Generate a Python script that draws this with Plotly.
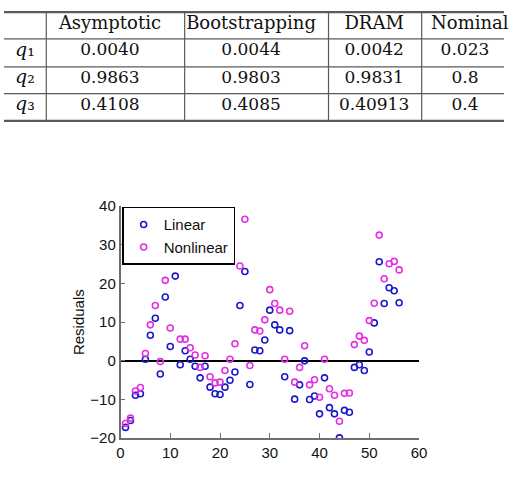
import plotly.graph_objects as go

# ---------------- data ----------------
col_headers = ["Asymptotic", "Bootstrapping", "DRAM", "Nominal"]
row_labels = ["<i>q</i>₁", "<i>q</i>₂", "<i>q</i>₃"]
asymptotic = ["0.0040", "0.9863", "0.4108"]
bootstrapping = ["0.0044", "0.9803", "0.4085"]
dram = ["0.0042", "0.9831", "0.40913"]
nominal = ["0.023", "0.8", "0.4"]

obs = [1, 2, 3, 4, 5, 6, 7, 8, 9, 10, 11, 12, 13, 14, 15, 16, 17, 18, 19, 20,
       21, 22, 23, 24, 25, 26, 27, 28, 29, 30, 31, 32, 33, 34, 35, 36, 37, 38, 39, 40,
       41, 42, 43, 44, 45, 46, 47, 48, 49, 50, 51, 52, 53, 54, 55, 56]
linear = [-17.2, -15.4, -8.9, -8.5, 0.4, 6.6, 11.0, -3.4, 16.5, 3.7,
          21.9, -1.0, 2.6, 0.4, -1.4, -4.4, -1.4, -6.8, -8.5, -8.7,
          -6.8, -5.0, -2.9, 14.3, 23.1, -6.1, 2.8, 2.6, 5.4, 13.1,
          9.3, 8.0, -4.1, 7.8, -9.9, -6.2, 0.0, -10.0, -9.1, -13.7,
          -4.4, -12.1, -13.7, -19.9, -12.8, -13.3, -1.7, -1.0, -2.5, 2.3,
          9.8, 25.6, 14.8, 18.9, 18.1, 15.0]
nonlinear = [-16.2, -14.8, -7.8, -6.9, 1.9, 9.3, 14.3, -0.2, 20.8, 8.5,
             26.9, 5.6, 5.6, 3.4, 1.5, -1.7, 1.3, -4.1, -5.7, -5.5,
             -2.5, 0.4, 4.4, 24.5, 36.6, -1.2, 8.0, 7.7, 10.6, 18.4,
             14.8, 13.1, 0.4, 12.8, -5.5, -1.7, 3.9, -6.2, -4.9, -9.4,
             0.4, -7.2, -8.9, -15.6, -8.4, -8.3, 4.2, 6.4, 5.3, 10.4,
             14.9, 32.5, 21.2, 25.1, 25.7, 23.5]

x_ticks = [0, 10, 20, 30, 40, 50, 60]
y_ticks = [-20, -10, 0, 10, 20, 30, 40]

W, H = 512, 480

fig = go.Figure()

# ---------------- scatter plot ----------------
fig.add_trace(go.Scatter(
    x=obs, y=linear, mode="markers", name="Linear",
    marker=dict(symbol="circle-open", size=6, color="#1a1acc", line=dict(width=1.6)),
    xaxis="x", yaxis="y", hoverinfo="skip"))
fig.add_trace(go.Scatter(
    x=obs, y=nonlinear, mode="markers", name="Nonlinear",
    marker=dict(symbol="circle-open", size=6, color="#e52ee5", line=dict(width=1.6)),
    xaxis="x", yaxis="y", hoverinfo="skip"))

# ---------------- table (drawn on a pixel-like helper axis) ----------------
col_x = [21.5, 108.5, 253, 379, 472]
header_x = [108.5, 253, 379, 477]
row_y = [43.5, 72, 100]
header_y = 16.5

fig.add_trace(go.Scatter(
    x=header_x, y=[header_y] * len(col_headers), text=col_headers, mode="text",
    textfont=dict(family="DejaVu Serif", size=18, color="#111"),
    xaxis="x2", yaxis="y2", showlegend=False, hoverinfo="skip", cliponaxis=False))
fig.add_trace(go.Scatter(
    x=[col_x[0]] * 3, y=row_y, text=row_labels, mode="text",
    textfont=dict(family="DejaVu Serif", size=19, color="#111"),
    xaxis="x2", yaxis="y2", showlegend=False, hoverinfo="skip", cliponaxis=False))
for cx, vals in zip(col_x[1:], [asymptotic, bootstrapping, dram, nominal]):
    fig.add_trace(go.Scatter(
        x=[cx] * 3, y=row_y, text=vals, mode="text",
        textfont=dict(family="DejaVu Serif", size=17, color="#111"),
        xaxis="x2", yaxis="y2", showlegend=False, hoverinfo="skip", cliponaxis=False))

line_col = "#5a5a5a"
hlines = [(3.3, 2.2), (31, 1.2), (60, 1.2), (87.7, 1.2), (116, 2.2)]
for yy, w in hlines:
    fig.add_shape(type="line", xref="x2", yref="y2", x0=0, x1=520, y0=yy, y1=yy,
                  line=dict(color=line_col, width=w))
for xx in [43.3, 185, 332.3, 427.7]:
    fig.add_shape(type="line", xref="x2", yref="y2", x0=xx, x1=xx, y0=3.3, y1=116,
                  line=dict(color=line_col, width=1.2))

# ---------------- layout ----------------
x0px, x1px = 119.3, 425
ytop, ybot = 204.3, 445
axis_col = "#6e6e6e"
fig.update_layout(
    width=W, height=H,
    margin=dict(l=0, r=0, t=0, b=0),
    paper_bgcolor="white", plot_bgcolor="rgba(0,0,0,0)",
    font=dict(family="Liberation Sans, Arial", size=15, color="#111"),
    xaxis=dict(domain=[x0px / W, x1px / W], range=[0, 60], tickvals=x_ticks,
               showgrid=False, zeroline=False, showline=True, linecolor=axis_col,
               linewidth=1.5, ticks="inside", ticklen=5, tickcolor=axis_col,
               tickfont=dict(size=15), anchor="y", fixedrange=True),
    yaxis=dict(domain=[(H - ybot) / H, (H - ytop) / H], range=[-20, 40], tickvals=y_ticks,
               showgrid=False, zeroline=True, zerolinecolor="black", zerolinewidth=1.5,
               showline=True, linecolor=axis_col, linewidth=1.5,
               ticks="inside", ticklen=5, tickcolor=axis_col,
               tickfont=dict(size=15), anchor="x",
               title=dict(text="Residuals", font=dict(size=15), standoff=2),
               fixedrange=True),
    xaxis2=dict(domain=[0, 1], range=[0, W], visible=False, anchor="y2", fixedrange=True),
    yaxis2=dict(domain=[1 - 120 / H, 1], range=[120, 0], visible=False, anchor="x2",
                fixedrange=True),
    legend=dict(x=121 / W, y=(H - 205) / H, xanchor="left", yanchor="top",
                bgcolor="white", bordercolor="black", borderwidth=1.5,
                font=dict(size=15, family="Liberation Sans, Arial"),
                tracegroupgap=0, itemwidth=30),
    showlegend=True,
)

fig.write_html("out.html")
